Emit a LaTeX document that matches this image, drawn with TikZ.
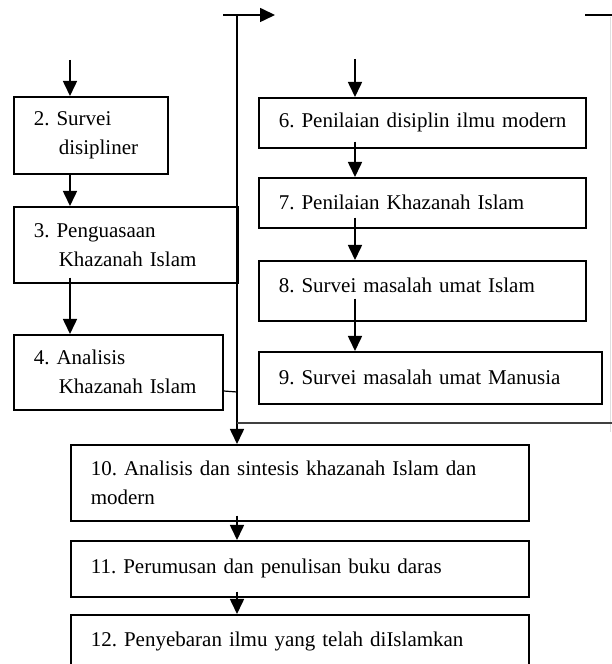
\documentclass[tikz,border=0pt]{standalone}
\usepackage{fontspec}
\setmainfont{Liberation Serif}
\usetikzlibrary{arrows.meta}
\frenchspacing
\hyphenpenalty=10000

\begin{document}
\begin{tikzpicture}[x=1pt,y=1pt,line width=1.6pt,
  box/.style={draw,rectangle,anchor=north west,align=left,inner xsep=20pt,inner ysep=0pt,
    font=\fontsize{21}{29}\selectfont},
  arr/.style={-{Triangle[length=15pt,width=14pt]}}]
\clip (0,0) rectangle (612,664);

% left column
\node[box,text width=114pt,minimum width=154pt,minimum height=77pt] (b2) at (13,568)
  {2. Survei\\\hspace*{25pt}disipliner};
\node[box,text width=184pt,minimum width=224pt,minimum height=76pt] (b3) at (13,458)
  {3. Penguasaan\\\hspace*{25pt}Khazanah Islam};
\node[box,text width=169pt,minimum width=209pt,minimum height=75pt] (b4) at (13,330)
  {4. Analisis\\\hspace*{25pt}Khazanah Islam};

% right column
\node[box,text width=287pt,minimum width=327pt,minimum height=50pt] (b6) at (258,567)
  {\mbox{6. Penilaian disiplin ilmu modern}};
\node[box,text width=287pt,minimum width=327pt,minimum height=50pt] (b7) at (258,487)
  {7. Penilaian Khazanah Islam};
\node[box,text width=287pt,minimum width=327pt,minimum height=60pt,text depth=12pt] (b8) at (258,404)
  {8. Survei masalah umat Islam};
\node[box,text width=303pt,minimum width=343pt,minimum height=52pt] (b9) at (258,313)
  {9. Survei masalah umat Manusia};

% bottom
\node[box,text width=418pt,minimum width=458pt,minimum height=76pt] (b10) at (70,220)
  {10. Analisis dan sintesis khazanah Islam dan\\modern};
\node[box,text width=418pt,minimum width=458pt,minimum height=56pt] (b11) at (70,124)
  {11. Perumusan dan penulisan buku daras};
\node[box,text width=418pt,minimum width=458pt,minimum height=54pt] (b12) at (70,50)
  {12. Penyebaran ilmu yang telah diIslamkan};

\coordinate (in2) at (70,604);
\coordinate (in6) at (355,605);
\coordinate (sp)  at (237,649);
\coordinate (t0)  at (223,649);
\coordinate (t1)  at (275,649);
\coordinate (r0)  at (585,649);
\coordinate (r1)  at (612,649);
\coordinate (g0)  at (610,647);
\coordinate (g1)  at (610,232);
\coordinate (h1)  at (612,241);

\draw[arr] (in2) -- (in2 |- b2.north);
\draw[arr] (in2 |- b2.south) -- (in2 |- b3.north);
\draw[arr,shorten <=-6pt] (in2 |- b3.south) -- (in2 |- b4.north);

\draw[arr] (in6) -- (in6 |- b6.north);
\draw[arr,shorten <=-7pt] (in6 |- b6.south) -- (in6 |- b7.north);
\draw[arr,shorten <=-11pt] (in6 |- b7.south) -- (in6 |- b8.north);
\draw[arr,shorten <=-23pt] (in6 |- b8.south) -- (in6 |- b9.north);

\draw[arr] (t0) -- (t1);
\draw[arr] (sp) -- (sp |- b10.north);
\draw (r0) -- (r1);
\draw[gray!25,line width=1pt] (g0) -- (g1);
\draw[black!75,line width=1.3pt] (sp |- h1) -- (h1);
\draw[line width=1.2pt] (b4.east |- 0,273) -- (sp |- 0,272);

\draw[arr,shorten <=-6pt] (sp |- b10.south) -- (sp |- b11.north);
\draw[arr,shorten <=-6pt] (sp |- b11.south) -- (sp |- b12.north);
\end{tikzpicture}
\end{document}
